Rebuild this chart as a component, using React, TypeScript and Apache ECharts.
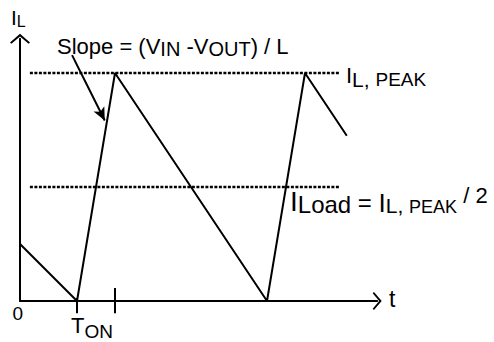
import React, { useEffect, useRef } from 'react';
import * as echarts from 'echarts';

// Inductor current waveform (time in arbitrary units, current in arbitrary units)
const timeValues = [0, 1.5, 2.5, 6.5, 7.5, 8.6];
const currentValues = [1.5, 0, 6, 0, 6, 4.35];
const peakLevel = 6;
const loadLevel = 3;
const levelSpan = [0.26, 8.42];
const tickTimes = [1.5, 2.5];
const tickTops = [0.08, 0.34];
const tickBottom = -0.32;
const slopeArrowFrom = [1.37, 6.47];
const slopeArrowTo = [2.23, 4.75];
const xMax = 9.4;
const yMax = 6.9;

const FONT = '"Liberation Sans", Arial, sans-serif';
const CHEVRON = 'path://M10,0 L20,8.6 L18.6,10 L10,2.8 L1.4,10 L0,8.6 Z';

type Tok = { text: string; size: number; shift: number };

let measureCtx: CanvasRenderingContext2D | null = null;
function textWidth(text: string, size: number) {
  if (!measureCtx) measureCtx = document.createElement('canvas').getContext('2d');
  if (!measureCtx) return text.length * size * 0.55;
  measureCtx.font = `${size}px ${FONT}`;
  return measureCtx.measureText(text).width;
}

function label(tokens: Tok[], x: number, baseline: number) {
  let cx = x;
  return tokens.map((t) => {
    const el = {
      type: 'text',
      x: cx,
      y: baseline + t.shift - 0.35 * t.size,
      z: 100,
      silent: true,
      style: {
        text: t.text,
        fontSize: t.size,
        fontFamily: FONT,
        fill: '#000',
        align: 'left',
        verticalAlign: 'middle',
      },
    };
    cx += textWidth(t.text, t.size);
    return el;
  });
}

export default function App() {
  const ref = useRef<HTMLDivElement>(null);
  useEffect(() => {
    if (!ref.current) return;
    const chart = echarts.init(ref.current, undefined, { renderer: 'svg' });
    const axisCommon = {
      type: 'value' as const,
      min: 0,
      axisLabel: { show: false },
      axisTick: { show: false },
      splitLine: { show: false },
    };
    const black = '#000';
    chart.setOption({
      animation: false,
      backgroundColor: '#fff',
      grid: { left: 20, right: 494 - (20 + xMax * 38), top: 301 - yMax * 38, bottom: 41 },
      xAxis: {
        ...axisCommon,
        max: xMax,
        axisLine: {
          show: true,
          onZero: false,
          symbol: ['none', CHEVRON],
          symbolSize: [18, 10],
          lineStyle: { color: black, width: 2 },
        },
      },
      yAxis: {
        ...axisCommon,
        max: yMax,
        axisLine: {
          show: true,
          onZero: false,
          symbol: ['none', CHEVRON],
          symbolSize: [20, 10],
          lineStyle: { color: black, width: 2 },
        },
      },
      series: [
        {
          type: 'line',
          data: timeValues.map((t, i) => [t, currentValues[i]]),
          showSymbol: false,
          lineStyle: { color: black, width: 2 },
          z: 3,
          markLine: {
            silent: true,
            symbol: ['none', 'arrow'],
            symbolSize: [9, 13],
            label: { show: false },
            lineStyle: { color: black, width: 2, type: 'solid' },
            data: [[{ coord: slopeArrowFrom }, { coord: slopeArrowTo }]],
          },
        },
        ...[peakLevel, loadLevel].map((lvl) => ({
          type: 'line',
          data: levelSpan.map((x) => [x, lvl]),
          showSymbol: false,
          lineStyle: { color: black, width: 2.5, type: [3, 1.5] },
          z: 2,
        })),
        ...tickTimes.map((t, i) => ({
          type: 'line',
          data: [[t, tickBottom], [t, tickTops[i]]],
          showSymbol: false,
          clip: false,
          lineStyle: { color: black, width: 2 },
          z: 2,
        })),
      ],
      graphic: [
        ...label([{ text: 'I', size: 21, shift: 0 }, { text: 'L', size: 16, shift: 2 }], 11, 25),
        ...label(
          [
            { text: 'Slope = (V', size: 22, shift: 0 },
            { text: 'IN', size: 20, shift: 2 },
            { text: ' -V', size: 22, shift: 0 },
            { text: 'OUT', size: 20, shift: 2 },
            { text: ') / L', size: 22, shift: 0 },
          ],
          57,
          54
        ),
        ...label(
          [
            { text: 'I', size: 22, shift: 0 },
            { text: 'L, ', size: 21, shift: 3.5 },
            { text: 'PEAK', size: 19, shift: 3.5 },
          ],
          346,
          83
        ),
        ...label(
          [
            { text: 'I', size: 28, shift: -2 },
            { text: 'Load', size: 24, shift: 0 },
            { text: ' = ', size: 24, shift: -2 },
            { text: 'I', size: 26, shift: -1 },
            { text: 'L, ', size: 21, shift: 0 },
            { text: 'PEAK', size: 18, shift: 0 },
            { text: ' / 2', size: 22, shift: -10 },
          ],
          290,
          213
        ),
        ...label([{ text: '0', size: 19, shift: 0 }], 12.5, 320),
        ...label([{ text: 'T', size: 22, shift: 0 }, { text: 'ON', size: 19, shift: 5 }], 71, 333),
        ...label([{ text: 't', size: 23, shift: 0 }], 389, 307),
      ],
    });
    return () => chart.dispose();
  }, []);
  return (
    <div
      ref={ref}
      style={{ position: 'fixed', left: 0, top: 0, width: 494, height: 342, background: '#fff' }}
    />
  );
}
